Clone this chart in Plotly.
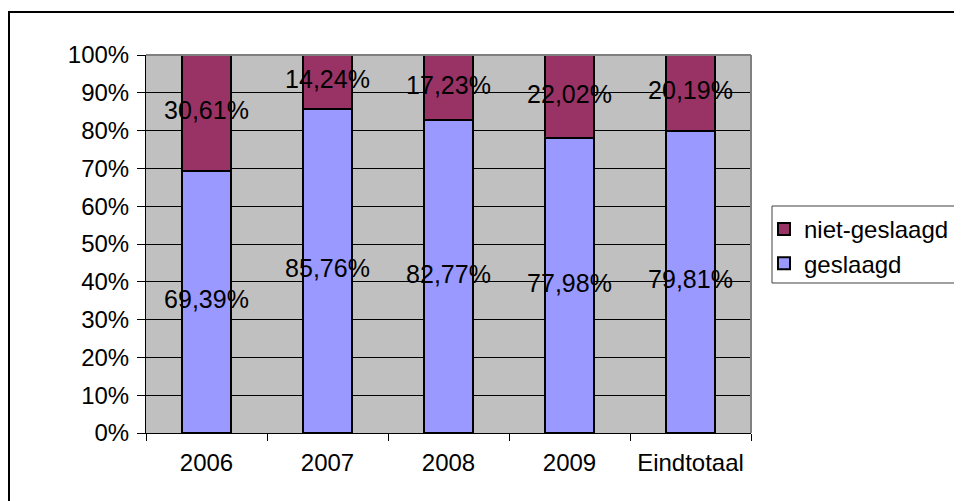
import plotly.graph_objects as go

categories = ["2006", "2007", "2008", "2009", "Eindtotaal"]
geslaagd = [69.39, 85.76, 82.77, 77.98, 79.81]
niet_geslaagd = [30.61, 14.24, 17.23, 22.02, 20.19]
y_ticks = [0, 10, 20, 30, 40, 50, 60, 70, 80, 90, 100]

FONT = "Liberation Sans, Arial, sans-serif"

def lbl(v):
    return f"{v:.2f}".replace(".", ",") + "%"

g = [v / 100 for v in geslaagd]
n = [v / 100 for v in niet_geslaagd]

fig = go.Figure()
fig.add_trace(go.Bar(x=categories, y=g, name="geslaagd",
                     marker=dict(color="#9999FF", line=dict(color="black", width=2))))
fig.add_trace(go.Bar(x=categories, y=n, name="niet-geslaagd",
                     marker=dict(color="#993366", line=dict(color="black", width=2))))

# labels centred in segments
fig.add_trace(go.Scatter(x=categories, y=[v / 2 for v in g], mode="text",
                         text=[lbl(v) for v in geslaagd], showlegend=False,
                         textfont=dict(family=FONT, size=25, color="black"), hoverinfo="skip"))
fig.add_trace(go.Scatter(x=categories, y=[a + b / 2 for a, b in zip(g, n)], mode="text",
                         text=[lbl(v) for v in niet_geslaagd], showlegend=False,
                         textfont=dict(family=FONT, size=25, color="black"), hoverinfo="skip"))

OFF = 8  # page body margin
L, R, T, B = 146 - OFF, 751 - OFF, 55 - OFF, 433 - OFF
W, H = 962 - OFF, 501 - OFF
pw, ph = R - L, B - T

def px(x):
    return (x - OFF - L) / pw

def py(y):
    return (B - (y - OFF)) / ph

fig.update_layout(
    width=W, height=H,
    margin=dict(l=L, r=W - R, t=T, b=H - B, pad=0, autoexpand=False),
    barmode="stack", bargap=0.6,
    plot_bgcolor="#C0C0C0", paper_bgcolor="white",
    font=dict(family=FONT, size=24, color="black"),
    showlegend=True,
    legend=dict(xref="container", yref="container",
                x=(764 - OFF) / W, y=1 - (207 - OFF) / H, xanchor="left", yanchor="top",
                traceorder="reversed", bgcolor="rgba(0,0,0,0)", borderwidth=0,
                font=dict(family=FONT, size=24, color="black"),
                itemwidth=30, tracegroupgap=0),
    shapes=[
        # outer chart border
        dict(type="rect", xref="paper", yref="paper",
             x0=px(9), x1=px(1000), y0=py(530), y1=py(12),
             line=dict(color="black", width=2), fillcolor="rgba(0,0,0,0)", layer="below"),
        # legend box
        dict(type="rect", xref="paper", yref="paper",
             x0=px(772), x1=px(1000), y0=py(283), y1=py(206),
             line=dict(color="#404040", width=1), fillcolor="white", layer="below"),
        # plot area border top/right
        dict(type="line", xref="paper", yref="paper", x0=0, x1=1, y0=1, y1=1,
             line=dict(color="#808080", width=2)),
        dict(type="line", xref="paper", yref="paper", x0=1, x1=1, y0=0, y1=1,
             line=dict(color="#808080", width=2)),
    ],
)

fig.update_yaxes(range=[0, 1], tickvals=[t / 100 for t in y_ticks],
                 ticktext=[f"{t}%" for t in y_ticks],
                 showgrid=True, gridcolor="black", gridwidth=1,
                 showline=True, linecolor="black", linewidth=1,
                 ticks="outside", ticklen=8, tickcolor="black", tickwidth=1,
                 zeroline=False, tickfont=dict(size=24), ticklabelstandoff=3,
                 automargin=False)
fig.update_xaxes(showgrid=False, showline=True, linecolor="black", linewidth=1,
                 ticks="outside", ticklen=7, tickcolor="black", tickson="boundaries",
                 tickfont=dict(size=24), ticklabelstandoff=8, automargin=False)

fig.write_html("out.html")
